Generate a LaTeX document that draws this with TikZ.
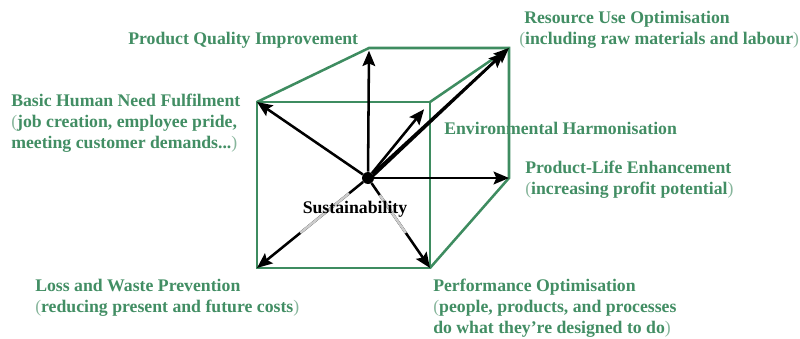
\documentclass[tikz,border=0pt]{standalone}
\usepackage{fontspec}
\setmainfont{Liberation Serif}
\usetikzlibrary{arrows.meta,calc}
\definecolor{cubegreen}{RGB}{62,140,96}
\definecolor{txtgreen}{RGB}{66,142,100}
\definecolor{pargreen}{RGB}{135,182,156}
\newcommand{\opr}{{\mdseries\color{pargreen}(}}
\newcommand{\cpr}{{\mdseries\color{pargreen})}}
\begin{document}
\begin{tikzpicture}[x=0.75pt,y=-0.75pt,
  edge/.style={draw=cubegreen,line width=1.9pt,line join=miter},
  vec/.style={draw=black,line width=1.9pt,-{Stealth[length=11.5pt,width=9.5pt,inset=2pt]}},
  halo/.style={draw=black!20,line width=1.9pt},
  lbl/.style={text=txtgreen,font=\fontsize{13.3}{15.5}\selectfont\bfseries,align=left,anchor=base west,inner sep=0pt},
  hub/.style={circle,fill=black,inner sep=0pt,minimum size=9pt},
]
\useasboundingbox (0,0) rectangle (800,339);
% cube corners
\coordinate (ftl) at (257,102);
\coordinate (ftr) at (430,102);
\coordinate (fbl) at (257,268);
\coordinate (fbr) at (430,268);
\coordinate (btl) at (369,48);
\coordinate (btr) at (509,48);
\coordinate (bbr) at (509,178);
\coordinate (cc) at (368,178);
\coordinate (cc2) at (372,177);
% cube edges
\draw[edge] (ftl) -- (ftr) -- (fbr) -- (fbl) -- cycle;
\draw[edge] (ftl) -- (btl) -- (btr) -- (bbr) -- (fbr);
\draw[edge] (ftr) -- (btr);
% hub
\node[hub] (c) at (cc) {};
% arrows
\draw[vec,shorten >=2pt] (c) -- (btl);
\draw[vec] (c) -- (ftl);
\draw[vec,shorten >=7pt] (c) -- (ftr);
\draw[vec,shorten >=5pt] (cc2) -- (btr);
\draw[vec] (c) -- (btr);
\draw[vec] (c) -- (bbr);
\draw[vec] (c) -- (fbl);
\draw[vec] (c) -- (fbr);
% light segments behind the label
\draw[halo] ($(cc)!0.17!(fbl)$) -- ($(cc)!0.61!(fbl)$);
\draw[halo] ($(cc)!0.19!(fbr)$) -- ($(cc)!0.61!(fbr)$);
\node[font=\fontsize{13.3}{15.5}\selectfont\bfseries,inner sep=0pt] (sus) at (355,209) {Sustainability};
% labels (anchor = baseline of last line)
\node[lbl] (pqi) at (128,44) {Product Quality Improvement};
\node[lbl] (ruo) at (519,44) {\hspace*{3.75pt}Resource Use Optimisation\\\opr including raw materials and labour\cpr};
\node[lbl] (bhn) at (11,148) {Basic Human Need Fulfilment\\\opr job creation, employee pride,\\meeting customer demands...\cpr};
\node[lbl] (env) at (444,134) {Environmental Harmonisation};
\node[lbl] (ple) at (525,194) {Product-Life Enhancement\\\opr increasing profit potential\cpr};
\node[lbl] (lwp) at (35,312) {Loss and Waste Prevention\\\opr reducing present and future costs\cpr};
\node[lbl] (pop) at (433,333) {Performance Optimisation\\\opr people, products, and processes\\do what they’re designed to do\cpr};
\end{tikzpicture}
\end{document}
